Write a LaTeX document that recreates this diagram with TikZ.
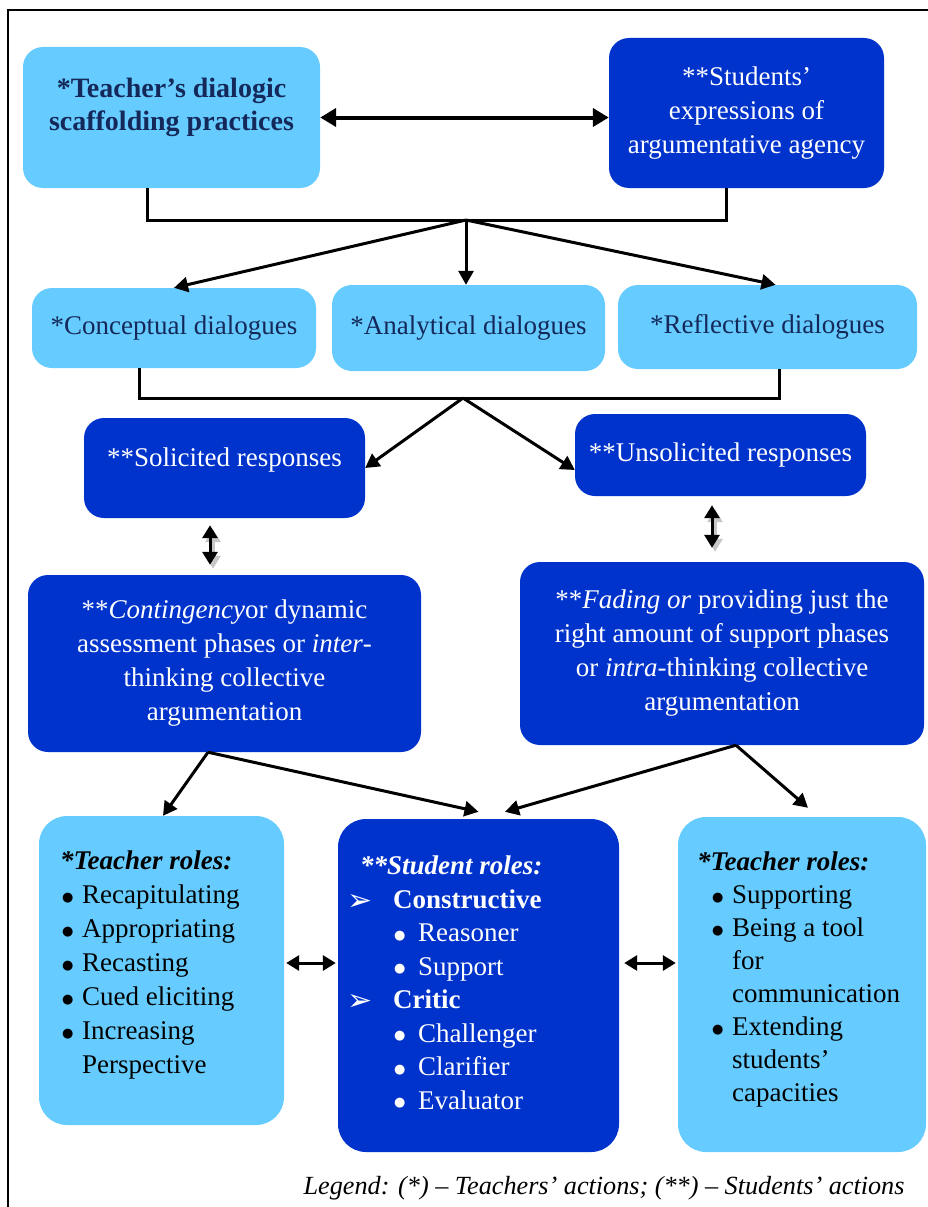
\documentclass[tikz,border=0pt]{standalone}
\usepackage{fontspec}
\setmainfont{Liberation Serif}
\newfontfamily\symfont{DejaVu Sans}
\usetikzlibrary{arrows.meta, positioning}

\definecolor{lightfill}{HTML}{66CCFF}
\definecolor{darkfill}{HTML}{0033CC}
\definecolor{navytxt}{HTML}{14285A}

% list markers
\newcommand{\bdot}{\raisebox{2.5pt}{\symfont\fontsize{13}{13}\selectfont ●}}
\newcommand{\bul}[1]{\hspace*{#1}\makebox[20pt][l]{\bdot}}
\newcommand{\chev}{\makebox[46pt][l]{\raisebox{-2pt}{\symfont\fontsize{30}{30}\selectfont ➢}}}

\begin{document}
\begin{tikzpicture}[
  x=1pt, y=-1pt,
  lbox/.style={rectangle, rounded corners=20pt, fill=lightfill, inner sep=0pt, align=center, text=navytxt, font=\fontsize{27}{34}\selectfont},
  dbox/.style={rectangle, rounded corners=20pt, fill=darkfill, inner sep=0pt, align=center, text=white, font=\fontsize{27}{34}\selectfont},
  rolebox/.style={rectangle, rounded corners=28pt, inner sep=0pt},
  roletxt/.style={anchor=north west, inner sep=0pt, align=left},
  link/.style={line width=3pt},
  arr/.style={-{Triangle[length=14pt,width=15pt]}, line width=3pt},
  dbl/.style={{Triangle[length=13pt,width=15pt]}-{Triangle[length=13pt,width=15pt]}, line width=3pt},
  bigarr/.style={{Triangle[length=16pt,width=18pt]}-{Triangle[length=16pt,width=18pt]}, line width=4pt}
]
  \useasboundingbox (0,0) rectangle (928,1207);
  \draw[line width=2pt] (8,1207) -- (8,10) -- (928,10);

  % top row
  \node[lbox, minimum width=297pt, minimum height=141pt] (teach) at (171.5,117.5) {};
  \node[font=\bfseries\fontsize{28}{33}\selectfont, text=navytxt, align=center] (teachtxt) at (171.5,107) {*Teacher’s dialogic\\scaffolding practices};
  \node[dbox, minimum width=275pt, minimum height=150pt] (stud) at (746.5,113) {**Students’\\expressions of\\argumentative agency};

  \draw[bigarr] (teach.east) -- (teach.east -| stud.west);

  % dialogues
  \node[lbox, minimum width=284pt, minimum height=80pt] (concept) at (174,328) {*Conceptual dialogues};
  \node[lbox, minimum width=273pt, minimum height=86pt] (analyt) at (468.5,328) {*Analytical dialogues};
  \node[lbox, minimum width=299pt, minimum height=84pt] (reflect) at (767.5,327) {*Reflective dialogues};

  \coordinate (j1) at (466,220);
  \draw[link] ([xshift=-24.5pt]teach.south) |- (j1) -| ([xshift=-20.5pt]stud.south);
  \draw[arr] (j1) -- (concept.north);
  \draw[arr] (j1) -- (j1 |- analyt.north);
  \draw[arr] (j1) -- ([xshift=8pt]reflect.north);

  % responses
  \node[dbox, minimum width=281pt, minimum height=100pt] (solic) at (224.5,468) {};
  \node[text=white, font=\fontsize{27}{34}\selectfont] (solictxt) at (224.5,460) {**Solicited responses};
  \node[dbox, minimum width=291pt, minimum height=82pt] (unsol) at (720.5,455) {**Unsolicited responses};

  \coordinate (j2) at (463,398);
  \draw[link] ([xshift=-35pt]concept.south) |- (j2) -| ([xshift=11.5pt]reflect.south);
  \draw[arr] (j2) -- (solic.east);
  \draw[arr] (j2) -- ([yshift=-15pt]unsol.west);

  % phases
  \node[dbox, minimum width=393pt, minimum height=177pt] (conting) at (224.5,663.5)
    {**\textit{Contingency}or dynamic\\assessment phases or \textit{inter}-\\thinking collective\\argumentation};
  \node[dbox, minimum width=404pt, minimum height=183pt] (fading) at (722,653.5)
    {**\textit{Fading or} providing just the\\right amount of support phases\\or \textit{intra}-thinking collective\\argumentation};

  \draw[dbl, gray!45, transform canvas={shift={(3pt,-4pt)}}, shorten <=7pt, shorten >=10pt] ([xshift=-14.5pt]solic.south) -- ([xshift=-14.5pt]conting.north);
  \draw[dbl, shorten <=7pt, shorten >=10pt] ([xshift=-14.5pt]solic.south) -- ([xshift=-14.5pt]conting.north);
  \draw[dbl, gray!45, transform canvas={shift={(3pt,-4pt)}}, shorten <=9pt, shorten >=14pt] ([xshift=-8.5pt]unsol.south) -- ([xshift=-8.5pt]unsol.south |- fading.north);
  \draw[dbl, shorten <=9pt, shorten >=14pt] ([xshift=-8.5pt]unsol.south) -- ([xshift=-8.5pt]unsol.south |- fading.north);

  % roles
  \node[rolebox, fill=lightfill, minimum width=245pt, minimum height=309pt] (tleft) at (161.5,970.5) {};
  \node[rolebox, fill=darkfill, minimum width=281pt, minimum height=333pt] (sroles) at (478.5,985.5) {};
  \node[rolebox, fill=lightfill, minimum width=248pt, minimum height=335pt] (tright) at (802,984.5) {};

  \node[roletxt, font=\fontsize{27}{34}\selectfont] (tlefttxt) at (60,851)
    {\textbf{\textit{*Teacher roles:}}\\
     \bul{2pt}Recapitulating\\
     \bul{2pt}Appropriating\\
     \bul{2pt}Recasting\\
     \bul{2pt}Cued eliciting\\
     \bul{2pt}Increasing\\
     \hspace*{22pt}Perspective};
  \node[roletxt, text=white, font=\fontsize{27}{33.5}\selectfont] (srolestxt) at (347,856)
    {\hspace*{13pt}\textbf{\textit{**Student roles:}}\\
     \chev\textbf{Constructive}\\
     \hspace*{47pt}\makebox[24pt][l]{\bdot}Reasoner\\
     \hspace*{47pt}\makebox[24pt][l]{\bdot}Support\\
     \chev\textbf{Critic}\\
     \hspace*{47pt}\makebox[24pt][l]{\bdot}Challenger\\
     \hspace*{47pt}\makebox[24pt][l]{\bdot}Clarifier\\
     \hspace*{47pt}\makebox[24pt][l]{\bdot}Evaluator};
  \node[roletxt, font=\fontsize{27}{33}\selectfont] (trighttxt) at (697,852)
    {\textbf{\textit{*Teacher roles:}}\\
     \bul{15pt}Supporting\\
     \bul{15pt}Being a tool\\
     \hspace*{35pt}for\\
     \hspace*{35pt}communication\\
     \bul{15pt}Extending\\
     \hspace*{35pt}students’\\
     \hspace*{35pt}capacities};

  \draw[arr] ([xshift=-16.5pt]conting.south) -- ([xshift=1.5pt]tleft.north);
  \draw[arr] ([xshift=-16.5pt]conting.south) -- ([yshift=7pt]sroles.north);
  \draw[arr] ([xshift=14pt]fading.south) -- ([xshift=26.5pt,yshift=7pt]sroles.north);
  \draw[arr] ([xshift=14pt]fading.south) -- ([xshift=6pt,yshift=9pt]tright.north);

  \draw[dbl, shorten <=2pt, shorten >=2pt] ([yshift=7.5pt]tleft.east) -- ([yshift=7.5pt]tleft.east -| sroles.west);
  \draw[dbl, shorten <=5pt, shorten >=2pt] ([yshift=22.5pt]sroles.east) -- ([yshift=22.5pt]sroles.east -| tright.west);

  % legend
  \node[anchor=east, font=\itshape\fontsize{26.2}{30}\selectfont] (legend) at (908,1188)
    {Legend: (*) – Teachers’ actions; (**) – Students’ actions};
\end{tikzpicture}
\end{document}
